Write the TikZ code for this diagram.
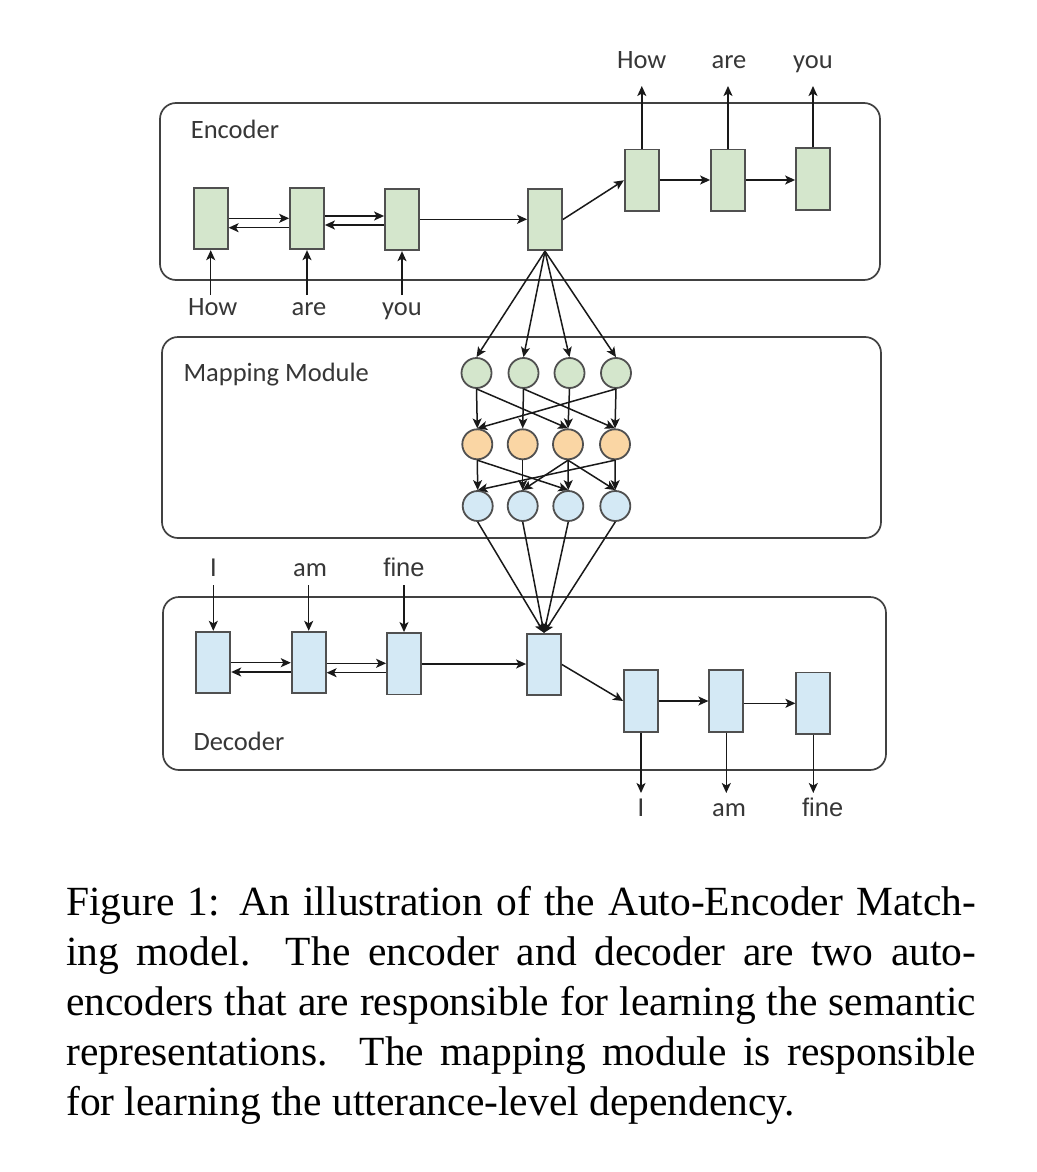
\documentclass[tikz,border=0pt]{standalone}
\usepackage{fontspec}
\newfontfamily\calfont{Carlito}
\newfontfamily\arialfont{Liberation Sans}
\newfontfamily\capfont{Liberation Serif}
\usetikzlibrary{arrows.meta}
\definecolor{gfill}{RGB}{212,230,204}
\definecolor{bfill}{RGB}{212,233,245}
\definecolor{ofill}{RGB}{250,214,164}
\definecolor{cellline}{RGB}{80,80,80}
\definecolor{frameline}{RGB}{65,65,65}
\definecolor{arrowc}{RGB}{25,25,25}
\definecolor{txt}{RGB}{55,55,55}
\begin{document}
\begin{tikzpicture}[x=1pt,y=-1pt,
  cell/.style={draw=cellline, line width=1.8pt, minimum width=34pt, minimum height=61.5pt, inner sep=0},
  gcell/.style={cell, fill=gfill},
  bcell/.style={cell, fill=bfill},
  neuron/.style={circle, draw=cellline, line width=1.8pt, minimum size=30pt, inner sep=0},
  frame/.style={draw=frameline, line width=1.7pt, rounded corners=16pt},
  conn/.style={draw=arrowc, line width=1.5pt, -{Stealth[length=10pt,width=9pt,inset=2.5pt]}},
  lbl/.style={font=\calfont\fontsize{26.5}{30}\selectfont, text=txt, inner sep=0, anchor=base},
  flbl/.style={font=\arialfont\fontsize{25.5}{30}\selectfont, text=txt, inner sep=0, anchor=base},
  ttl/.style={lbl, anchor=base west}
]
\fill[white] (0,0) rectangle (1036,1172);
\useasboundingbox (0,0) rectangle (1036,1172);

% frames
\draw[frame] (160,103) rectangle (880,280);
\draw[frame] (162,337) rectangle (881,538);
\draw[frame] (163,597) rectangle (886,770);
\node[ttl] (tenc) at (190.7,138.3) {Encoder};
\node[ttl] (tmap) at (183.3,381.7) {Mapping Module};
\node[ttl] (tdec) at (193.3,750) {Decoder};

% encoder cells
\node[gcell] (e1) at (210.7,218.5) {};
\node[gcell] (e2) at (307,218.5) {};
\node[gcell] (e3) at (402,219.5) {};
\node[gcell] (e4) at (545,219.5) {};
\node[gcell] (e5) at (641.8,180.3) {};
\node[gcell] (e6) at (728,180.3) {};
\node[gcell] (e7) at (813,179) {};

% decoder cells
\node[bcell] (d1) at (213.3,662.5) {};
\node[bcell] (d2) at (308.7,662.5) {};
\node[bcell] (d3) at (404,663.7) {};
\node[bcell] (d4) at (544,664.5) {};
\node[bcell] (d5) at (641,701) {};
\node[bcell] (d6) at (726.3,701) {};
\node[bcell] (d7) at (813.3,703.3) {};

% mapping neurons
\foreach \i/\x in {1/476.5,2/523.5,3/569.5,4/616} {
  \node[neuron, fill=gfill] (g\i) at (\x,373) {};
}
\foreach \i/\x in {1/477.3,2/522.7,3/568,4/615} {
  \node[neuron, fill=ofill] (o\i) at (\x,444.3) {};
}
\foreach \i/\x in {1/477.7,2/522.7,3/568.3,4/615.3} {
  \node[neuron, fill=bfill] (b\i) at (\x,506) {};
}

% encoder labels and inputs
\node[lbl] (ein1) at (212.7,315) {How};
\node[lbl] (ein2) at (309,315) {are};
\node[lbl] (ein3) at (402,315) {you};
\coordinate (ea1) at (210.7,295);
\coordinate (ea2) at (307,295);
\coordinate (ea3) at (402,295);
\draw[conn] (ea1) -- (e1.south);
\draw[conn] (ea2) -- (e2.south);
\draw[conn] (ea3) -- (e3.south);

\node[lbl] (eout1) at (641.7,68.3) {How};
\node[lbl] (eout2) at (729,68.3) {are};
\node[lbl] (eout3) at (813,68.3) {you};
\coordinate (eb1) at (641.8,86);
\coordinate (eb2) at (728,86);
\coordinate (eb3) at (813,86);
\draw[conn] (e5.north) -- (eb1);
\draw[conn] (e6.north) -- (eb2);
\draw[conn] (e7.north) -- (eb3);

% encoder recurrences
\draw[conn] (e1.east |- 0,218.3) -- (e2.west |- 0,218.3);
\draw[conn] (e2.west |- 0,227.7) -- (e1.east |- 0,227.7);
\draw[conn] (e2.east |- 0,216) -- (e3.west |- 0,216);
\draw[conn] (e3.west |- 0,225) -- (e2.east |- 0,225);
\draw[conn] (e3.east |- 0,219.3) -- (e4.west |- 0,219.3);
\draw[conn] (e4.east) -- (e5.west);
\draw[conn] (e5.east |- 0,180) -- (e6.west |- 0,180);
\draw[conn] (e6.east |- 0,180) -- (e7.west |- 0,180);

% encoder to mapping
\foreach \i in {1,2,3,4} { \draw[conn] (e4.south) -- (g\i.north); }
% mapping layers
\foreach \i in {1,2,3,4} { \draw[conn] (g\i.south) -- (o\i.north); }
\draw[conn] (g1.south) -- (o3.north);
\draw[conn] (g2.south) -- (o4.north);
\draw[conn] (g4.south) -- (o1.north);
\foreach \i in {1,2,3,4} { \draw[conn] (o\i.south) -- (b\i.north); }
\draw[conn] (o1.south) -- (b3.north);
\draw[conn] (o3.south) -- (b2.north);
\draw[conn] (o3.south) -- (b4.north);
\draw[conn] (o4.south) -- (b1.north);
% mapping to decoder
\foreach \i in {1,2,3,4} { \draw[conn] (b\i.south) -- (d4.north); }

% decoder labels and inputs
\node[flbl] (din1) at (213.3,576) {I};
\node[lbl] (din2) at (310,576) {am};
\node[flbl] (din3) at (404,576) {fine};
\coordinate (da1) at (213.3,585);
\coordinate (da2) at (308.7,585);
\coordinate (da3) at (404,585);
\draw[conn] (da1) -- (d1.north);
\draw[conn] (da2) -- (d2.north);
\draw[conn] (da3) -- (d3.north);

\node[flbl] (dout1) at (641,816.7) {I};
\node[lbl] (dout2) at (729,816.7) {am};
\node[flbl] (dout3) at (822.7,816.7) {fine};
\coordinate (db1) at (641,793);
\coordinate (db2) at (726.3,793);
\coordinate (db3) at (813.3,793);
\draw[conn] (d5.south) -- (db1);
\draw[conn] (d6.south) -- (db2);
\draw[conn] (d7.south) -- (db3);

% decoder recurrences
\draw[conn] (d1.east |- 0,662.7) -- (d2.west |- 0,662.7);
\draw[conn] (d2.west |- 0,672) -- (d1.east |- 0,672);
\draw[conn] (d2.east |- 0,663.3) -- (d3.west |- 0,663.3);
\draw[conn] (d3.west |- 0,672.7) -- (d2.east |- 0,672.7);
\draw[conn] (d3.east |- 0,664) -- (d4.west |- 0,664);
\draw[conn] (d4.east) -- (d5.west);
\draw[conn] (d5.east |- 0,701) -- (d6.west |- 0,701);
\draw[conn] (d6.east |- 0,703.3) -- (d7.west |- 0,703.3);

% caption
\node[inner sep=0, anchor=base west] (cap) at (66,915) {\capfont\fontsize{41.5}{50}\selectfont\vtop{%
\hbox to 910pt{Figure 1: An illustration of the Auto-Encoder Match-}%
\hbox to 910pt{ing model. The encoder and decoder are two auto-}%
\hbox to 910pt{encoders that are responsible for learning the semantic}%
\hbox to 910pt{representations. The mapping module is responsible}%
\hbox{for learning the utterance-level dependency.}}};
\end{tikzpicture}
\end{document}
